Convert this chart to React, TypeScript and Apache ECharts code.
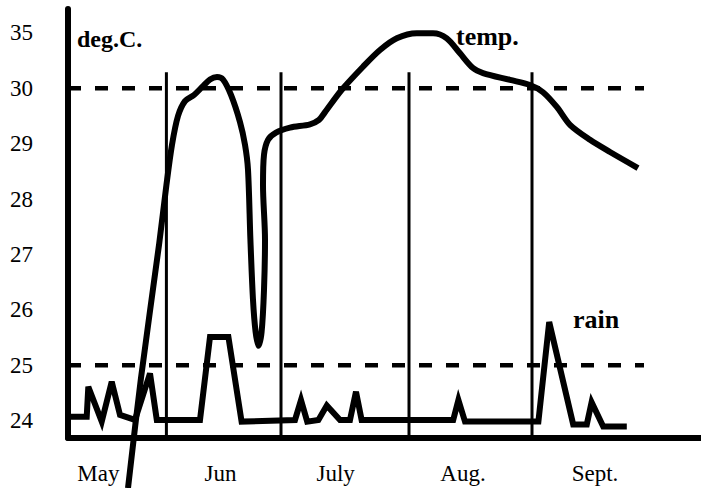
import React, { useEffect, useRef } from "react";
import * as echarts from "echarts";

// ---- data ----
const months = ["May", "Jun", "July", "Aug.", "Sept."];
const monthLabelAt = [7.6, 38.1, 66.9, 98.75, 131.75];
const monthStarts = [24.6, 53.25, 85.25, 116];
const boundaryTop = 31.45;

const tickTemps = [24, 25, 26, 27, 28, 29, 30, 35];
const tickLabels = ["24", "25", "26", "27", "28", "29", "30", "35"];
const refTemps = [30, 25];
const refEnd = 144;

const tempDay = [
  15, 18.25, 22.75, 24.6, 26, 27.5, 29.25, 31.5, 33.75, 35.5, 37.25, 38.75, 40.75, 43, 44.25, 45,
  45.6, 46.25, 46.9, 47.6, 48.4, 49, 49.25, 48.75, 49, 50, 52, 55.5, 60.5, 62.75, 64.25, 68.4,
  73.75, 78, 82.2, 87.2, 91.25, 94.7, 98, 101.25, 103.75, 110.5, 115.5, 118.75, 122.25, 125.5,
  130.5, 135.5, 142.5,
];
const tempDeg = [
  22.78, 24.77, 27.17, 28.25, 28.98, 29.5, 29.77, 29.88, 30.2, 30.8, 31.02, 30.8, 29.88, 29.39,
  28.98, 28.53, 27.27, 26.18, 25.6, 25.35, 25.6, 26.36, 27.27, 28.25, 28.8, 29.07, 29.2, 29.29,
  29.35, 29.43, 29.57, 29.97, 31.95, 33.46, 34.52, 34.97, 34.97, 34.52, 33.16, 31.83, 31.38,
  30.76, 30.3, 29.93, 29.66, 29.34, 29.07, 28.85, 28.56,
];

const rainDay = [
  0.75, 4.68, 5.08, 8.43, 10.93, 13, 16.75, 20.5, 22.2, 33, 35.5, 40.1, 43.4, 56.75, 58.25, 59.8,
  62.6, 64.7, 68, 70.5, 72, 73.4, 96.3, 97.6, 99.25, 117.6, 120.3, 126.3, 129.7, 130.9, 133.8,
  139.7,
];
const rainVal = [
  24.07, 24.07, 24.61, 23.98, 24.7, 24.1, 24.01, 24.85, 24.01, 24.01, 25.51, 25.51, 23.98, 24.01,
  24.37, 23.98, 24.01, 24.27, 24.01, 24.01, 24.52, 24.01, 24.01, 24.37, 23.98, 23.98, 25.78,
  23.93, 23.93, 24.33, 23.89, 23.89,
];

// axis scale: tick index position of a temperature (24..30 linear, 30..35 compressed)
function pos(t: number): number {
  if (t <= tickTemps[0]) return (t - tickTemps[0]) / (tickTemps[1] - tickTemps[0]);
  for (let i = 0; i < tickTemps.length - 1; i++) {
    const a = tickTemps[i];
    const b = tickTemps[i + 1];
    if (t <= b) return i + (t - a) / (b - a);
  }
  const n = tickTemps.length - 1;
  return n + (t - tickTemps[n]) / (tickTemps[n] - tickTemps[n - 1]);
}

const FONT = "Liberation Serif";
const Y_MIN = -0.316;
const Y_MAX = 7.433;
const X_MAX = 158.25;

export default function App() {
  const ref = useRef<HTMLDivElement>(null);
  useEffect(() => {
    if (!ref.current) return;
    const chart = echarts.init(ref.current, undefined, { renderer: "svg" });
    const black = "#000";
    const lineBase = {
      type: "line" as const,
      showSymbol: false,
      symbol: "none",
      silent: true,
      clip: false,
      animation: false,
    };
    const series: any[] = [];
    monthStarts.forEach((x) => {
      series.push({
        ...lineBase,
        data: [
          [x, Y_MIN],
          [x, pos(boundaryTop)],
        ],
        lineStyle: { color: black, width: 3 },
      });
    });
    refTemps.forEach((t) => {
      series.push({
        ...lineBase,
        data: [
          [0, pos(t)],
          [refEnd, pos(t)],
        ],
        lineStyle: { color: black, width: 4.5, type: [13, 14] },
      });
    });
    series.push({
      ...lineBase,
      name: "rain",
      data: rainDay.map((d, i) => [d, pos(rainVal[i])]),
      lineStyle: { color: black, width: 6, join: "miter" },
    });
    series.push({
      ...lineBase,
      name: "temp",
      smooth: 0.3,
      data: tempDay.map((d, i) => [d, pos(tempDeg[i])]),
      lineStyle: { color: black, width: 6 },
    });

    const txt = (text: string, x: number, y: number, size: number) => ({
      type: "text",
      x,
      y,
      style: {
        text,
        fill: black,
        fontSize: size,
        fontWeight: "bold",
        fontFamily: FONT,
        align: "left",
        verticalAlign: "middle",
      },
    });

    chart.setOption({
      animation: false,
      backgroundColor: "#fff",
      textStyle: { fontFamily: FONT },
      grid: { left: 68, right: 0, top: 9, bottom: 50, containLabel: false, outerBoundsMode: "none" },
      xAxis: {
        type: "value",
        min: 0,
        max: X_MAX,
        axisLine: { show: true, onZero: false, lineStyle: { color: black, width: 6 } },
        axisTick: { show: false },
        splitLine: { show: false },
        axisLabel: {
          customValues: monthLabelAt,
          formatter: (v: number) => {
            const i = monthLabelAt.findIndex((m) => Math.abs(m - v) < 1e-6);
            return i >= 0 ? months[i] : "";
          },
          margin: 24,
          color: black,
          fontSize: 23,
          fontFamily: FONT,
        },
      },
      yAxis: {
        type: "value",
        min: Y_MIN,
        max: Y_MAX,
        axisLine: { show: true, onZero: false, lineStyle: { color: black, width: 6 } },
        axisTick: { show: false },
        splitLine: { show: false },
        axisLabel: {
          customValues: tickLabels.map((_, i) => i),
          formatter: (v: number) => tickLabels[Math.round(v)] ?? "",
          margin: 35,
          color: black,
          fontSize: 23,
          fontFamily: FONT,
        },
      },
      series,
      graphic: [
        txt("deg.C.", 77, 39, 24),
        txt("temp.", 456, 36, 26),
        txt("rain", 573, 319, 26),
      ],
    });
    return () => chart.dispose();
  }, []);
  return (
    <div
      ref={ref}
      style={{ position: "fixed", left: 0, top: 0, width: 701, height: 488, background: "#fff" }}
    />
  );
}
